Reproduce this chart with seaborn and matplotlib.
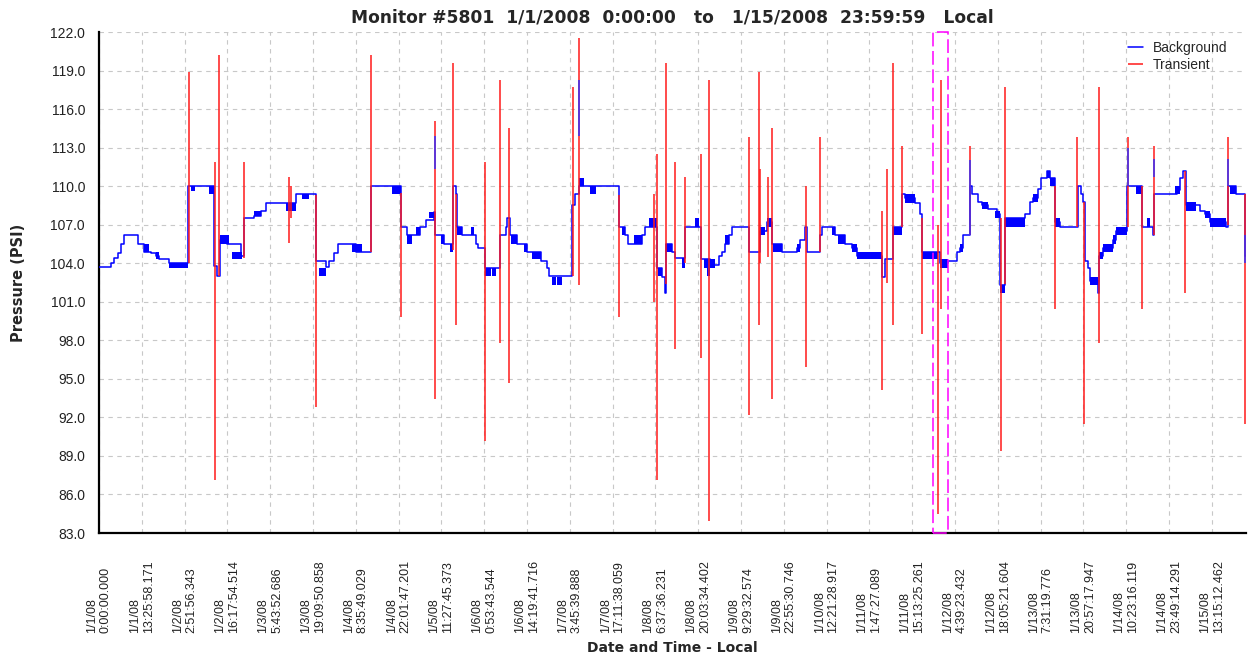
"""Monitor #5801 pressure chart: background trace (blue) + transient spikes (red)."""

from datetime import datetime

import matplotlib

matplotlib.use("Agg")

import matplotlib.pyplot as plt
from matplotlib.patches import Rectangle
import seaborn as sns

START = datetime(2008, 1, 1)

# x tick labels (date / time), positions are parsed from the text
tick_labels = [
    "1/1/08 0:00:00.000", "1/1/08 13:25:58.171", "1/2/08 2:51:56.343",
    "1/2/08 16:17:54.514", "1/3/08 5:43:52.686", "1/3/08 19:09:50.858",
    "1/4/08 8:35:49.029", "1/4/08 22:01:47.201", "1/5/08 11:27:45.373",
    "1/6/08 0:53:43.544", "1/6/08 14:19:41.716", "1/7/08 3:45:39.888",
    "1/7/08 17:11:38.059", "1/8/08 6:37:36.231", "1/8/08 20:03:34.402",
    "1/9/08 9:29:32.574", "1/9/08 22:55:30.746", "1/10/08 12:21:28.917",
    "1/11/08 1:47:27.089", "1/11/08 15:13:25.261", "1/12/08 4:39:23.432",
    "1/12/08 18:05:21.604", "1/13/08 7:31:19.776", "1/13/08 20:57:17.947",
    "1/14/08 10:23:16.119", "1/14/08 23:49:14.291", "1/15/08 13:15:12.462",
]
y_ticks = [83, 86, 89, 92, 95, 98, 101, 104, 107, 110, 113, 116, 119, 122]

# background pressure: (hours since start, PSI), drawn as steps
background_steps = [
    (0.0, 103.7), (3.8, 104.0), (4.8, 104.4), (5.9, 104.8), (6.9, 105.5),
    (7.9, 106.2), (12.1, 105.5), (14.2, 104.9), (16.3, 104.8), (17.9, 104.6),
    (18.9, 104.3), (22.0, 104.0), (28.0, 110.0), (36.1, 103.8), (37.0, 103.0),
    (37.9, 105.8), (40.3, 105.5), (44.5, 104.6), (45.5, 107.5), (48.6, 107.7),
    (50.8, 108.1), (52.4, 108.7), (61.8, 109.4), (68.0, 104.2), (71.2, 103.7),
    (72.1, 104.2), (73.7, 104.8), (74.9, 105.5), (80.6, 104.9), (85.5, 110.0),
    (94.7, 106.8), (96.8, 106.2), (100.9, 106.8), (102.5, 107.4), (105.0, 108.0),
    (105.4, 106.2), (108.2, 105.5), (111.2, 110.0), (112.0, 109.4), (112.5, 106.8),
    (114.0, 106.2), (118.2, 105.5), (119.1, 105.2), (121.1, 103.6), (126.0, 106.2),
    (127.6, 106.8), (128.0, 107.5), (128.9, 106.2), (131.3, 105.5), (134.2, 104.9),
    (138.6, 104.2), (140.7, 103.6), (141.1, 103.0), (148.5, 108.5), (149.3, 109.4),
    (150.6, 110.0), (163.1, 106.8), (165.2, 106.2), (166.1, 105.5), (170.4, 106.2),
    (171.5, 106.8), (175.1, 103.6), (176.7, 102.9), (177.7, 101.7), (178.1, 105.5),
    (179.8, 104.9), (180.9, 104.4), (184.0, 106.8), (189.0, 104.3), (191.9, 103.9),
    (194.5, 104.6), (195.5, 104.9), (196.6, 105.5), (197.6, 106.2), (198.7, 106.8),
    (203.9, 104.9), (207.5, 106.5), (209.6, 107.2), (211.2, 105.5), (214.3, 104.9),
    (219.0, 105.2), (220.1, 105.8), (221.6, 106.8), (222.2, 104.9), (226.3, 106.2),
    (226.9, 106.8), (231.0, 106.2), (234.2, 105.5), (236.3, 105.2), (237.8, 104.6),
    (245.7, 102.9), (246.7, 104.3), (249.3, 106.8), (252.1, 109.4), (253.0, 109.1),
    (256.1, 108.7), (257.7, 107.8), (258.2, 104.9), (263.9, 104.0), (266.6, 104.2),
    (269.2, 104.9), (270.2, 105.2), (271.3, 106.2), (273.4, 110.0), (273.9, 109.4),
    (276.0, 108.8), (277.0, 108.5), (279.1, 108.2), (281.7, 107.8), (282.8, 102.3),
    (284.3, 107.5), (290.6, 107.8), (292.2, 108.8), (293.1, 109.1), (294.8, 109.8),
    (295.8, 110.6), (297.4, 111.2), (298.4, 110.6), (300.0, 107.2), (301.6, 106.8),
    (307.3, 110.0), (308.2, 109.4), (308.8, 108.8), (309.4, 104.2), (310.3, 103.6),
    (311.0, 102.6), (313.5, 101.7), (313.9, 104.6), (315.1, 105.2), (318.2, 105.8),
    (319.3, 106.5), (322.8, 110.0), (327.4, 106.8), (330.7, 106.2), (331.0, 109.4),
    (338.2, 109.7), (339.2, 110.6), (340.2, 111.2), (341.3, 108.5), (345.5, 108.1),
    (347.0, 107.8), (348.6, 107.2), (353.8, 106.8), (354.3, 110.0), (357.0, 109.4),
    (359.6, 104.6), (360.0, 104.6),
]

# periods where the background flickers between two levels: (start h, end h, low, high)
flicker_blocks = [
    (14.2, 15.6, 104.9, 105.5), (17.9, 18.9, 104.3, 104.9), (22.0, 27.8, 103.6, 104.0),
    (29.0, 30.0, 109.6, 110.0), (34.6, 36.1, 109.4, 110.0), (37.9, 40.8, 105.5, 106.2),
    (41.9, 45.0, 104.3, 104.9), (48.7, 50.8, 107.7, 108.1), (58.6, 61.8, 108.1, 108.7),
    (63.8, 65.9, 109.0, 109.4), (69.1, 71.2, 103.0, 103.6), (79.5, 82.7, 104.9, 105.5),
    (92.1, 94.7, 109.4, 110.0), (96.8, 98.3, 105.5, 106.2), (99.4, 100.9, 106.2, 106.8),
    (103.5, 105.1, 107.5, 108.0), (107.2, 108.2, 105.5, 106.2), (110.3, 111.2, 104.9, 105.5),
    (112.5, 114.0, 106.2, 106.8), (116.6, 117.6, 106.2, 106.8), (121.1, 122.9, 103.0, 103.6),
    (123.4, 124.5, 103.0, 103.6), (129.2, 131.3, 105.5, 106.2), (133.3, 134.2, 104.9, 105.5),
    (136.0, 138.6, 104.3, 104.9), (142.2, 143.3, 102.3, 102.9), (143.9, 145.3, 102.3, 102.9),
    (150.6, 152.1, 110.0, 110.6), (154.0, 156.1, 109.4, 110.0), (164.2, 165.2, 106.2, 106.8),
    (167.8, 170.4, 105.5, 106.2), (172.5, 175.1, 106.8, 107.5), (175.6, 176.7, 103.0, 103.6),
    (178.1, 179.8, 104.9, 105.5), (183.0, 184.0, 103.6, 104.4), (187.2, 188.2, 106.8, 107.5),
    (189.8, 193.4, 103.6, 104.3), (190.8, 191.9, 103.0, 103.6), (196.6, 197.6, 105.5, 106.2),
    (207.5, 209.1, 106.2, 106.8), (209.6, 211.2, 106.8, 107.5), (211.7, 214.3, 104.9, 105.5),
    (219.0, 220.1, 104.9, 105.5), (230.0, 231.0, 106.2, 106.8), (232.1, 234.2, 105.5, 106.2),
    (236.3, 237.8, 104.9, 105.5), (237.8, 245.7, 104.3, 104.9), (249.3, 251.9, 106.2, 106.8),
    (253.0, 256.1, 108.7, 109.4), (258.2, 263.4, 104.3, 104.9), (263.9, 266.6, 103.6, 104.3),
    (270.2, 271.3, 104.9, 105.5), (277.0, 279.1, 108.2, 108.8), (281.2, 282.8, 107.5, 108.1),
    (282.8, 284.3, 101.7, 102.3), (284.3, 290.6, 106.8, 107.5), (293.1, 294.8, 108.8, 109.4),
    (297.4, 298.4, 110.6, 111.2), (298.4, 300.0, 110.0, 110.6), (300.0, 301.6, 106.8, 107.5),
    (311.0, 313.6, 102.3, 102.9), (313.9, 315.2, 104.3, 104.9), (315.2, 318.3, 104.9, 105.5),
    (318.3, 319.3, 105.5, 106.2), (319.3, 322.5, 106.2, 106.8), (325.6, 327.4, 109.4, 110.0),
    (328.8, 329.8, 106.8, 107.5), (337.6, 339.2, 109.4, 110.0), (341.3, 344.4, 108.1, 108.8),
    (347.0, 348.6, 107.5, 108.1), (348.6, 353.8, 106.8, 107.5), (354.9, 357.0, 109.4, 110.0),
]

# short background excursions seen on top of transients: (hours, low, high)
background_excursions = [
    (105.6, 111.3, 113.9), (150.6, 113.9, 118.3), (273.4, 106.2, 112.0),
    (322.9, 110.0, 113.0), (331.0, 110.7, 112.1), (354.3, 110.0, 112.1),
    (359.6, 104.0, 106.2),
]

# transient events: (hours since start, min PSI, max PSI)
transients = [
    (28.1, 104.0, 118.9), (36.4, 87.1, 111.9), (37.6, 103.0, 120.2), (45.5, 104.4, 111.9),
    (59.6, 105.6, 110.7), (60.3, 107.5, 110.0), (68.0, 92.8, 109.3), (85.4, 104.9, 120.2),
    (94.7, 99.8, 109.5), (105.6, 93.4, 115.1), (111.2, 105.0, 119.6), (112.2, 99.2, 109.4),
    (121.0, 90.2, 111.9), (126.0, 97.8, 118.3), (128.6, 94.7, 114.5), (148.8, 103.0, 117.7),
    (150.6, 102.3, 121.5), (163.1, 99.8, 109.3), (174.3, 101.0, 109.4), (175.2, 87.1, 112.5),
    (178.0, 102.4, 119.6), (180.7, 97.3, 111.9), (184.0, 104.0, 110.7), (189.0, 96.6, 112.5),
    (191.3, 83.9, 118.3), (203.9, 92.2, 113.8), (207.2, 99.2, 118.9), (207.5, 104.0, 111.3),
    (210.1, 104.5, 110.7), (211.2, 93.4, 114.5), (221.9, 95.9, 110.0), (226.3, 104.9, 113.8),
    (245.7, 94.1, 108.1), (247.2, 102.5, 111.3), (249.1, 99.2, 119.6), (252.0, 106.8, 113.1),
    (258.2, 98.5, 107.5), (263.2, 84.5, 107.0), (264.3, 100.4, 118.3), (273.4, 106.2, 113.1),
    (283.1, 89.4, 107.5), (284.3, 102.4, 117.7), (300.2, 100.4, 110.0), (307.1, 106.8, 113.8),
    (309.2, 91.5, 108.8), (313.9, 97.8, 117.7), (323.0, 106.8, 113.8), (327.4, 100.4, 110.0),
    (331.1, 106.2, 113.1), (340.9, 101.7, 111.2), (354.3, 107.0, 113.8), (359.6, 91.5, 109.4),
]

# selected window (hours since start)
selection_start = 261.85
selection_end = 266.55


def to_hours(label: str) -> float:
    t = datetime.strptime(label, "%m/%d/%y %H:%M:%S.%f")
    return (t - START).total_seconds() / 3600.0


sns.set_style("white")
plt.rcParams["font.family"] = ["Liberation Sans", "DejaVu Sans"]
BOLD = ["DejaVu Sans"]

fig = plt.figure(figsize=(12.49, 6.58), dpi=100)
ax = fig.add_axes([99 / 1249, 1 - 533 / 658, 1147 / 1249, 501 / 658])

bg_hours = [h for h, _ in background_steps]
bg_psi = [p for _, p in background_steps]

# flicker blocks
ax.bar(
    [b[0] for b in flicker_blocks],
    [b[3] - b[2] for b in flicker_blocks],
    width=[b[1] - b[0] for b in flicker_blocks],
    bottom=[b[2] for b in flicker_blocks],
    align="edge",
    color="#0000ff",
    linewidth=0,
    zorder=2,
)

sns.lineplot(
    x=bg_hours, y=bg_psi, ax=ax, color="#0000ff", linewidth=1.1,
    drawstyle="steps-post", estimator=None, sort=False, zorder=3,
)
bg_line = ax.get_lines()[0]

tr = ax.vlines(
    [t[0] for t in transients],
    [t[1] for t in transients],
    [t[2] for t in transients],
    color="#ff1a1a", linewidth=1.1, zorder=4,
)

# blue excursions drawn over the red transients
ax.vlines(
    [e[0] for e in background_excursions],
    [e[1] for e in background_excursions],
    [e[2] for e in background_excursions],
    color="#3030ff", linewidth=1.1, zorder=4.5,
)

ax.add_patch(Rectangle(
    (selection_start, 83), selection_end - selection_start, 39,
    fill=False, edgecolor="#ff00ff", linewidth=1.1,
    linestyle=(0, (9, 3)), zorder=5, clip_on=False,
))

ax.set_xlim(0, 360)
ax.set_ylim(83, 122)

ax.set_yticks(y_ticks)
ax.set_yticklabels([f"{v:.1f}" for v in y_ticks])
ax.set_xticks([to_hours(s) for s in tick_labels])
ax.set_xticklabels([s.replace(" ", "\n") for s in tick_labels])

ax.grid(True, color="#c8c8c8", linestyle=(0, (4, 4)), linewidth=0.8)
ax.set_axisbelow(True)

sns.despine(ax=ax)
for side in ("left", "bottom"):
    ax.spines[side].set_linewidth(1.6)
    ax.spines[side].set_color("black")

ax.tick_params(axis="y", direction="inout", length=14, width=1.6,
               labelsize=10, pad=3, colors="black")
ax.tick_params(axis="x", direction="inout", length=12, width=1.6,
               labelsize=9, pad=66, colors="black")
for lbl in ax.get_xticklabels():
    lbl.set_rotation(90)
    lbl.set_rotation_mode("anchor")
    lbl.set_ha("left")
    lbl.set_va("center")
    lbl.set_multialignment("left")
    lbl.set_color("#222222")
for lbl in ax.get_yticklabels():
    lbl.set_color("#222222")

ax.set_title(
    "Monitor #5801  1/1/2008  0:00:00   to   1/15/2008  23:59:59   Local",
    fontsize=12.3, fontweight="bold", family=BOLD, pad=7,
)
ax.set_xlabel("Date and Time - Local", fontsize=10, fontweight="bold", family=BOLD)
ax.xaxis.set_label_coords(0.5, -0.2156)
ax.set_ylabel("Pressure (PSI)", fontsize=10.5, fontweight="bold", family=BOLD)
ax.yaxis.set_label_coords(-0.0636, 0.5)

ax.legend(
    [bg_line, tr], ["Background", "Transient"],
    loc="upper right", bbox_to_anchor=(0.984, 0.982), frameon=False,
    fontsize=10, handlelength=1.1, handletextpad=0.7, labelspacing=0.22,
    borderpad=0, borderaxespad=0,
)

fig.savefig("out.png", dpi=100)
plt.close(fig)
